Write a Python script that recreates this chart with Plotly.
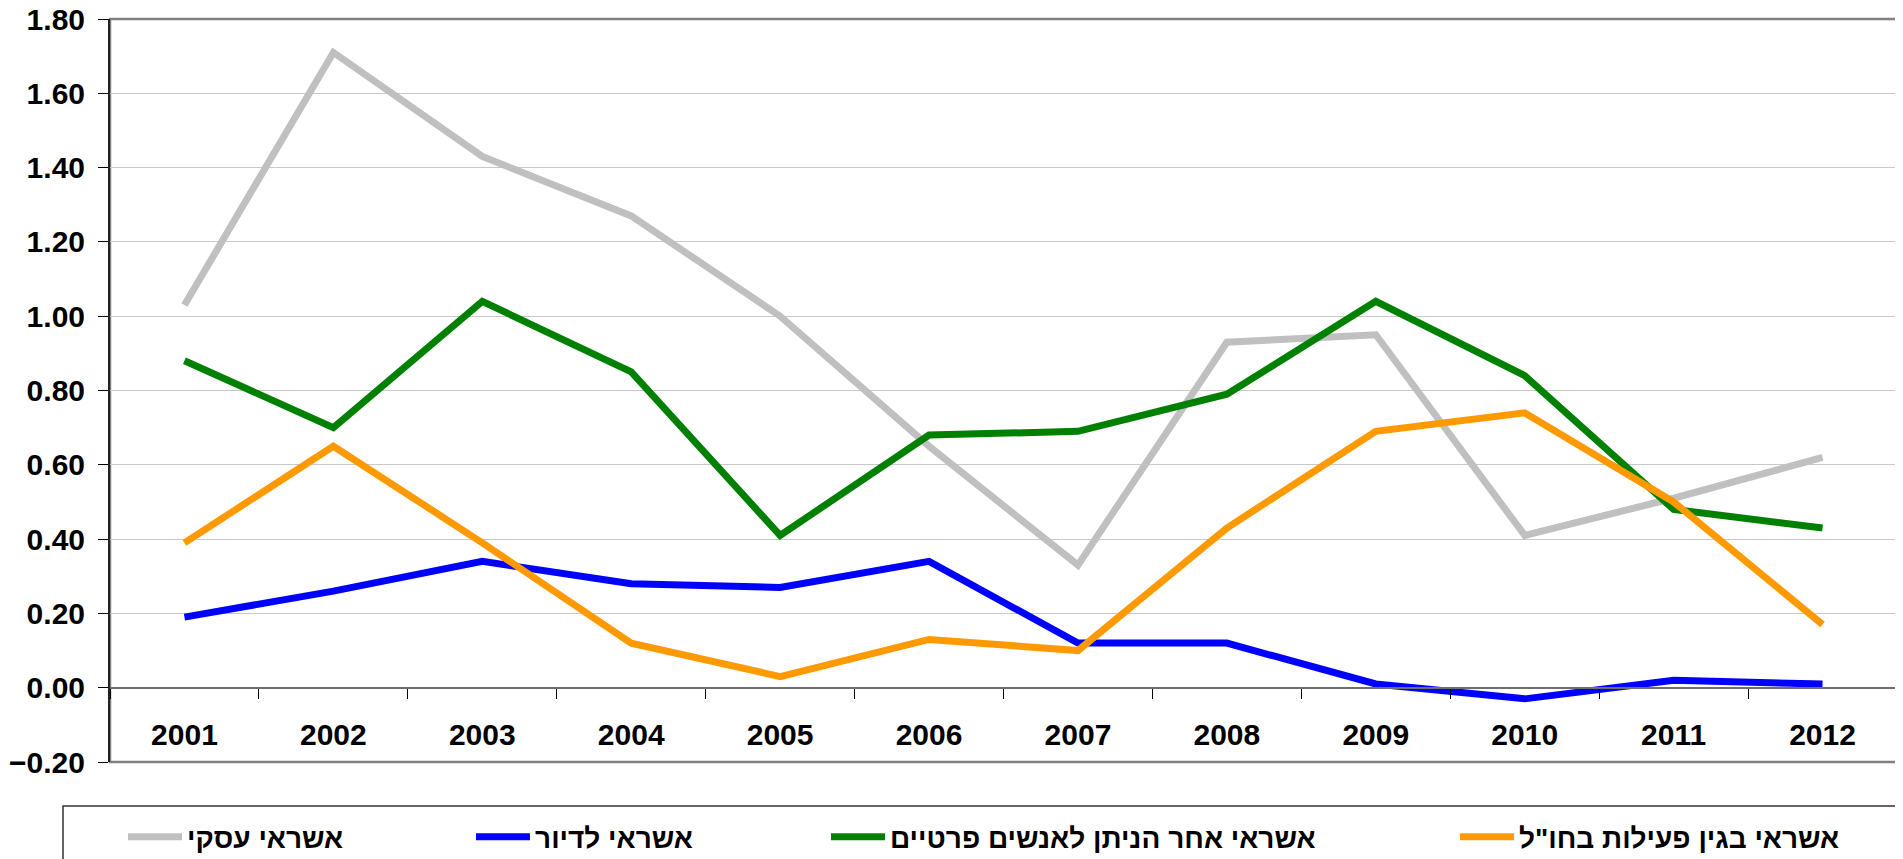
import plotly.graph_objects as go

years = ["2001", "2002", "2003", "2004", "2005", "2006", "2007", "2008", "2009", "2010", "2011", "2012"]

business_credit = [1.03, 1.71, 1.43, 1.27, 1.00, 0.65, 0.33, 0.93, 0.95, 0.41, 0.51, 0.62]
housing_credit = [0.19, 0.26, 0.34, 0.28, 0.27, 0.34, 0.12, 0.12, 0.01, -0.03, 0.02, 0.01]
other_private_credit = [0.88, 0.70, 1.04, 0.85, 0.41, 0.68, 0.69, 0.79, 1.04, 0.84, 0.48, 0.43]
foreign_credit = [0.39, 0.65, 0.39, 0.12, 0.03, 0.13, 0.10, 0.43, 0.69, 0.74, 0.50, 0.17]

series_names = ["אשראי עסקי", "אשראי לדיור", "אשראי אחר הניתן לאנשים פרטיים", 'אשראי בגין פעילות בחו"ל']
series_values = [business_credit, housing_credit, other_private_credit, foreign_credit]
series_colors = ["#C0C0C0", "#0000FF", "#008000", "#FF9900"]

# page body has an 8px default margin; compensate so the plot lands where intended
OFF = 8
W, H = 1903 - OFF, 859 - OFF
L, R, T, B = 110 - OFF, 6, 19 - OFF, 97
PW = W - L - R
PH = H - T - B


def px_x(px):
    return (px - OFF - L) / PW


def px_y(py):
    return (H - B - (py - OFF)) / PH


legend_names = ["legend", "legend2", "legend3", "legend4"]
legend_left_px = [123, 471, 826, 1455]

fig = go.Figure()
for name, vals, col, lg in zip(series_names, series_values, series_colors, legend_names):
    fig.add_trace(go.Scatter(
        x=years, y=vals, mode="lines", name=name,
        line=dict(color=col, width=7),
        legend=lg, showlegend=True,
    ))

font_family = "Liberation Sans, Arial, sans-serif"

layout_legends = {}
for lg, lpx in zip(legend_names, legend_left_px):
    layout_legends[lg] = dict(
        orientation="h",
        xref="container", yref="container",
        x=(lpx - OFF) / W, xanchor="left",
        y=1 - (837 - OFF) / H, yanchor="middle",
        bgcolor="rgba(0,0,0,0)", borderwidth=0,
        itemwidth=54,
        font=dict(family=font_family, size=28, color="black", weight="bold"),
    )

fig.update_layout(
    width=W, height=H,
    margin=dict(l=L, r=R, t=T, b=B, pad=0, autoexpand=False),
    paper_bgcolor="white", plot_bgcolor="white",
    font=dict(family=font_family, color="black"),
    showlegend=True,
    **layout_legends,
    xaxis=dict(
        type="category",
        categoryorder="array", categoryarray=years,
        range=[-0.5, 11.5],
        anchor="free", position=0.1,
        automargin=False,
        showline=True, linecolor="#6E6E6E", linewidth=2,
        showgrid=False, zeroline=False,
        ticks="outside", ticklen=10, tickwidth=1, tickcolor="black",
        tickson="boundaries",
        ticklabelstandoff=20,
        ticklabeloverflow="allow",
        tickfont=dict(family=font_family, size=30, color="black", weight="bold"),
    ),
    yaxis=dict(
        range=[-0.2, 1.8],
        dtick=0.2, tick0=0, tickformat=".2f",
        automargin=False,
        showline=True, linecolor="#222222", linewidth=2,
        showgrid=True, gridcolor="#C8C8C8", gridwidth=1,
        zeroline=False,
        ticks="outside", ticklen=10, tickwidth=1, tickcolor="black",
        ticklabelstandoff=7,
        ticklabeloverflow="allow",
        tickfont=dict(family=font_family, size=30, color="black", weight="bold"),
    ),
    shapes=[
        dict(type="rect", xref="paper", yref="paper", x0=0, x1=1, y0=0, y1=1,
             line=dict(color="#808080", width=2.5), layer="below"),
        dict(type="rect", xref="paper", yref="paper",
             x0=px_x(63), x1=px_x(1900), y0=px_y(806), y1=px_y(880),
             line=dict(color="#333333", width=1.5), layer="below"),
    ],
)

fig.write_html("out.html")
